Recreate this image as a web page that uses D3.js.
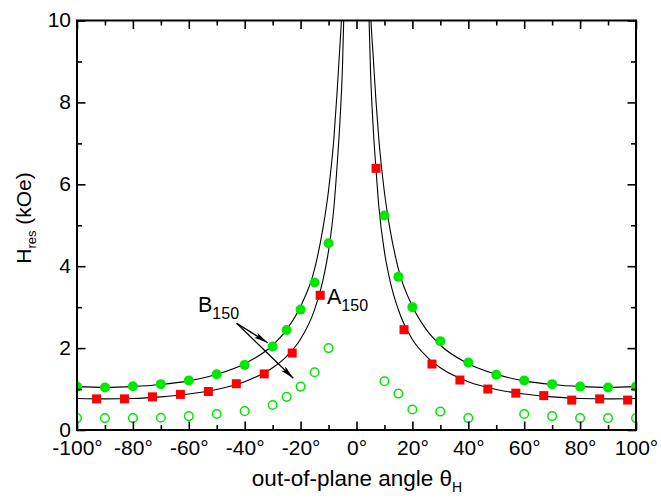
<!DOCTYPE html>
<html><head><meta charset="utf-8">
<script src="https://cdn.jsdelivr.net/npm/d3@7"></script>
<style>body{margin:0;background:#fff}svg{display:block}text{font-family:"Liberation Sans",Arial,sans-serif}</style>
</head><body><svg id="c" width="661" height="499"></svg>
<script>
// Filled green circles (B150 in-plane)
const greenAngle = [-100,-90,-80,-70,-60,-50,-40,-30,-25,-20,-15,-10, 10,15,20,30,40,50,60,70,80,90,100];
const greenH     = [1.06,1.04,1.07,1.12,1.21,1.36,1.59,2.04,2.44,2.94,3.60,4.56, 5.24,3.74,3.00,2.17,1.65,1.35,1.21,1.12,1.06,1.04,1.06];
// Red squares (A150)
const redAngle = [-93,-83,-73,-63,-53,-43,-33,-23,-13, 7,17,27,37,47,57,67,77,87,97];
const redH     = [0.76,0.76,0.81,0.87,0.94,1.13,1.37,1.88,3.29, 6.39,2.45,1.61,1.22,1.00,0.90,0.84,0.73,0.76,0.73];
// Open green circles
const openAngle = [-100,-90,-80,-70,-60,-50,-40,-30,-25,-20,-15,-10, 10,15,20,30,40,60,70,80,90,100];
const openH     = [0.29,0.29,0.29,0.30,0.34,0.39,0.46,0.61,0.81,1.06,1.41,2.00, 1.19,0.89,0.50,0.45,0.29,0.39,0.34,0.29,0.29,0.29];
// Fit curves
const fitAngle = [-100,-90,-80,-70,-60,-50,-40,-30,-25,-20,-15,-12,-10,-8,-7,-6,-5,-4.5, 4.5,5,6,7,8,10,12,15,20,25,30,40,50,60,70,80,90,100];
const fitGreenH = [1.06,1.04,1.06,1.11,1.20,1.36,1.62,2.07,2.45,3.02,3.93,4.93,5.85,7.2,8.2,9.3,10.5,11.3, 11.0,10.2,9.1,8.0,7.1,5.8,4.9,3.93,3.02,2.45,2.07,1.62,1.36,1.20,1.11,1.06,1.04,1.06];
const fitRedH   = [0.77,0.76,0.77,0.81,0.88,0.99,1.18,1.52,1.80,2.22,2.94,3.66,4.38,5.50,6.40,7.45,8.90,10.2, 10.0,8.8,7.35,6.35,5.45,4.35,3.64,2.93,2.21,1.80,1.52,1.18,0.99,0.88,0.81,0.77,0.76,0.77];
const xMajor = [-100,-80,-60,-40,-20,0,20,40,60,80,100];
const xMinor = [-90,-70,-50,-30,-10,10,30,50,70,90];
const yMajor = [0,2,4,6,8,10];
const yMinor = [1,3,5,7,9];

const svg = d3.select("#c");
const L = 77, R = 636, T = 20.5, B = 430;
const x = d3.scaleLinear().domain([-100,100]).range([L,R]);
const y = d3.scaleLinear().domain([0,10]).range([B,T]);
const green = "#00e800", red = "#ff0000";

svg.append("defs").append("clipPath").attr("id","clip")
  .append("rect").attr("x",L).attr("y",T).attr("width",R-L).attr("height",B-T);

// Fit curves
const line = d3.line().x(d=>x(d[0])).y(d=>y(d[1])).curve(d3.curveMonotoneX);
const gC = svg.append("g").attr("clip-path","url(#clip)");
[fitGreenH, fitRedH].forEach(arr=>{
  const pts = fitAngle.map((a,i)=>[a,arr[i]]);
  [pts.filter(p=>p[0]<0), pts.filter(p=>p[0]>0)].forEach(seg=>{
    gC.append("path").attr("d",line(seg)).attr("fill","none").attr("stroke","#000").attr("stroke-width",1.1);
  });
});

// Markers
const gM = svg.append("g").attr("clip-path","url(#clip)");
gM.selectAll(".o").data(openAngle.map((a,i)=>[a,openH[i]])).join("circle")
  .attr("cx",d=>x(d[0])).attr("cy",d=>y(d[1])).attr("r",4.3)
  .attr("fill","none").attr("stroke",green).attr("stroke-width",1.5);
gM.selectAll(".g").data(greenAngle.map((a,i)=>[a,greenH[i]])).join("circle")
  .attr("cx",d=>x(d[0])).attr("cy",d=>y(d[1])).attr("r",5).attr("fill",green);
gM.selectAll(".r").data(redAngle.map((a,i)=>[a,redH[i]])).join("rect")
  .attr("x",d=>x(d[0])-4.5).attr("y",d=>y(d[1])-4.5).attr("width",9).attr("height",9).attr("fill",red);

// Axes
function ax(gen, tr, vals, size, fmt){
  const g = svg.append("g").attr("transform",tr)
    .call(gen.tickValues(vals).tickSizeInner(size).tickSizeOuter(0).tickFormat(fmt));
  g.select(".domain").remove();
  g.selectAll("line").attr("stroke","#000").attr("stroke-width",1.6);
  g.selectAll("text").attr("font-size",21).attr("fill","#000");
  return g;
}
const deg = d=>d+"°";
const gx = ax(d3.axisBottom(x), `translate(0,${B})`, xMajor, -8.5, deg);
gx.selectAll("text").attr("y",10).attr("dy","0.71em");
ax(d3.axisBottom(x), `translate(0,${B})`, xMinor, -5, ()=>"");
ax(d3.axisTop(x), `translate(0,${T})`, xMajor, -8.5, ()=>"");
ax(d3.axisTop(x), `translate(0,${T})`, xMinor, -5, ()=>"");
const gy = ax(d3.axisLeft(y), `translate(${L},0)`, yMajor, -8.5, d=>d);
gy.selectAll("text").attr("x",-6).attr("dy","0.3em");
ax(d3.axisLeft(y), `translate(${L},0)`, yMinor, -5, ()=>"");
ax(d3.axisRight(y), `translate(${R},0)`, yMajor, -8.5, ()=>"");
ax(d3.axisRight(y), `translate(${R},0)`, yMinor, -5, ()=>"");

svg.append("rect").attr("x",L).attr("y",T).attr("width",R-L).attr("height",B-T)
  .attr("fill","none").attr("stroke","#000").attr("stroke-width",2);

// Axis titles
const xt = svg.append("text").attr("x",357).attr("y",486).attr("text-anchor","middle").attr("font-size",22.5);
xt.append("tspan").text("out-of-plane angle θ");
xt.append("tspan").attr("font-size",14).attr("dy",6).text("H");
const yt = svg.append("text").attr("transform","translate(31,218) rotate(-90)").attr("text-anchor","middle").attr("font-size",21);
yt.append("tspan").text("H");
yt.append("tspan").attr("font-size",13).attr("dy",5).text("res");
yt.append("tspan").attr("dy",-5).text(" (kOe)");

// Annotations
const ta = svg.append("text").attr("x",327).attr("y",304).attr("font-size",21.5);
ta.append("tspan").text("A");
ta.append("tspan").attr("font-size",16).attr("dy",7).text("150");
const tb = svg.append("text").attr("x",198).attr("y",312).attr("font-size",21.5);
tb.append("tspan").text("B");
tb.append("tspan").attr("font-size",16).attr("dy",7).text("150");

svg.select("defs").append("marker").attr("id","arr").attr("viewBox","0 0 14 6")
  .attr("refX",14).attr("refY",3).attr("markerWidth",14).attr("markerHeight",6)
  .attr("markerUnits","userSpaceOnUse").attr("orient","auto")
  .append("path").attr("d","M0,0 L14,3 L0,6 L3,3 Z").attr("fill","#000");
[[267.7,342.7],[293.3,378.3]].forEach(e=>{
  svg.append("line").attr("x1",236.7).attr("y1",323.3).attr("x2",e[0]).attr("y2",e[1])
    .attr("stroke","#000").attr("stroke-width",1.3).attr("marker-end","url(#arr)");
});
</script></body></html>
